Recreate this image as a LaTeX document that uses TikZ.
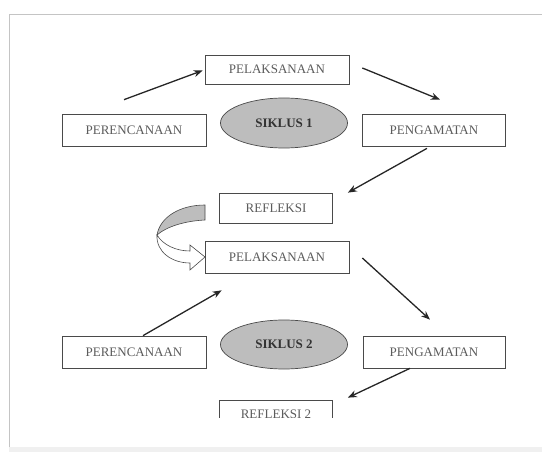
\documentclass[tikz,border=0pt]{standalone}
\usepackage{fontspec}
\setmainfont{Liberation Serif}
\usepackage{tikz}
\usetikzlibrary{shapes.geometric,arrows.meta,calc}
\definecolor{garis}{HTML}{4A4A4A}
\definecolor{teks}{HTML}{5C5C5C}
\definecolor{isielips}{HTML}{BDBDBD}
\definecolor{bingkai}{HTML}{C4C4C4}

\begin{document}
\begin{tikzpicture}[x=1pt,y=-1pt,
  kotak/.style={draw=garis,fill=white,line width=0.7pt,inner sep=0pt,
                minimum width=144pt,minimum height=32pt,
                font=\fontsize{13}{15}\selectfont,text=teks},
  kotakkecil/.style={kotak,minimum width=113pt,minimum height=30pt},
  elips/.style={ellipse,draw=garis,fill=isielips,line width=0.7pt,inner sep=0pt,
                minimum width=127pt,minimum height=50pt,
                font=\bfseries\fontsize{13}{15}\selectfont,text=black!80},
  panah/.style={-{Stealth[length=9pt,width=7pt]},draw=black!85,line width=1.3pt}
]
\useasboundingbox (0,0) rectangle (542,452);
% bingkai halaman
\fill[gray!12] (9,447) rectangle (542,452);
\draw[bingkai,line width=1.6pt] (9.5,447) -- (9.5,14.5) -- (542,14.5);

% siklus 1
\node[kotak,minimum height=29pt] (pel1) at (277,69.5) {PELAKSANAAN};
\node[kotak] (ren1) at (134,130) {PERENCANAAN};
\node[elips] (sik1) at (284,123) {SIKLUS 1};
\node[kotak,minimum width=143pt] (ama1) at (434,130) {PENGAMATAN};
\node[kotakkecil] (ref1) at (276,208) {REFLEKSI};

% siklus 2
\node[kotak] (pel2) at (277,257) {PELAKSANAAN};
\node[kotak] (ren2) at (134,352) {PERENCANAAN};
\node[elips,minimum height=49pt] (sik2) at (284,344.5) {SIKLUS 2};
\node[kotak,minimum width=142pt] (ama2) at (434,352) {PENGAMATAN};
\begin{scope}
  \clip (200,390) rectangle (350,417);
  \node[kotakkecil,minimum height=29pt] (ref2) at (276,414.5) {REFLEKSI 2};
\end{scope}

% panah siklus 1
\draw[panah] ([shift={(-10,-14)}]ren1.north) -- ([shift={(-2,1)}]pel1.west);
\draw[panah] ([shift={(13,-1.5)}]pel1.east) -- ([shift={(6,-14)}]ama1.north);
\draw[panah] ([shift={(-7,2)}]ama1.south) -- ([shift={(15,0)}]ref1.north east);

% panah lengkung refleksi -> pelaksanaan
\filldraw[draw=garis,fill=isielips,line width=0.6pt]
  (205,205) .. controls (180,205) and (160,217) .. (157,235)
  .. controls (166,227) and (184,221) .. (205,220) -- cycle;
\filldraw[draw=garis,fill=white,line width=0.6pt]
  (157,235) .. controls (156,252) and (172,263) .. (190,263)
  -- (190,270) -- (205,257) -- (190,245) -- (190,251)
  .. controls (176,251) and (163,245) .. (157,235) -- cycle;

% panah siklus 2
\draw[panah] ([shift={(9,0)}]ren2.north) -- ([shift={(17,17)}]pel2.south west);
\draw[panah] ([shift={(13,1)}]pel2.east) -- ([shift={(-4,-16)}]ama2.north);
\draw[panah] ([shift={(-24,0)}]ama2.south) -- ([shift={(15,-2)}]ref2.north east);
\end{tikzpicture}
\end{document}
